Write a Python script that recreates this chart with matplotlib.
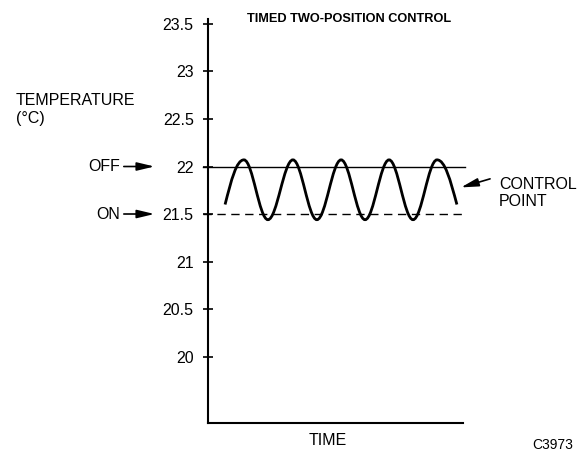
import matplotlib
matplotlib.use("Agg")
import matplotlib.pyplot as plt
from matplotlib.path import Path
from matplotlib.patches import PathPatch

plt.rcParams['font.family'] = ['Liberation Sans', 'DejaVu Sans']

# Temperature scale (deg C)
y_ticks = [20, 20.5, 21, 21.5, 22, 22.5, 23, 23.5]
y_labels = ['20', '20.5', '21', '21.5', '22', '22.5', '23', '23.5']
off_temp = 22.0
on_temp = 21.5

# Wave: start, alternating peaks/troughs, end
wave_x = [0.67, 1.41, 2.35, 3.33, 4.27, 5.22, 6.16, 7.10, 8.04, 8.98, 9.76]
wave_y = [21.60, 22.07, 21.44, 22.07, 21.44, 22.07, 21.44, 22.07, 21.44, 22.07, 21.60]

fig = plt.figure(figsize=(5.79, 4.55), dpi=100)
ax = fig.add_axes([0.3592, 0.0703, 0.4405, 0.8874])
ax.set_xlim(0, 10)
ax.set_ylim(19.3, 23.55)

for s in ['top', 'right']:
    ax.spines[s].set_visible(False)
ax.spines['left'].set_linewidth(1.5)
ax.spines['bottom'].set_linewidth(1.5)
ax.set_xticks([])
ax.set_yticks(y_ticks)
ax.set_yticklabels(y_labels, fontsize=11.5)
ax.tick_params(axis='y', direction='inout', length=6.5, width=1.2, pad=7)

# setpoint lines
ax.plot([-0.2, 10.08], [off_temp, off_temp], color='black', lw=1.0, clip_on=False)
ax.plot([-0.2, 10.08], [on_temp, on_temp], color='black', lw=1.0,
        dashes=(6, 4), clip_on=False)

# smooth wave through the extrema (cubic bezier, flat at each extremum)
verts = [(wave_x[0], wave_y[0])]
codes = [Path.MOVETO]
n = len(wave_x)
for i in range(n - 1):
    x0, y0 = wave_x[i], wave_y[i]
    x1, y1 = wave_x[i + 1], wave_y[i + 1]
    dx, dy = x1 - x0, y1 - y0
    if i == 0:
        c1 = (x0 + dx / 3, y0 + 0.55 * dy)
        c2 = (x1 - 0.4 * dx, y1)
    elif i == n - 2:
        c1 = (x0 + 0.4 * dx, y0)
        c2 = (x1 - dx / 3, y1 - 0.55 * dy)
    else:
        c1 = (x0 + 0.364 * dx, y0)
        c2 = (x1 - 0.364 * dx, y1)
    verts += [c1, c2, (x1, y1)]
    codes += [Path.CURVE4] * 3
ax.add_patch(PathPatch(Path(verts, codes), fill=False, lw=2.0,
                       edgecolor='black', capstyle='butt'))

arrow = dict(arrowstyle='-|>,head_length=1.05,head_width=0.25', color='black',
             lw=1.2, shrinkA=0, shrinkB=0)

ax.text(-3.45, off_temp, 'OFF', ha='right', va='center', fontsize=11.5)
ax.annotate('', xy=(-2.1, off_temp), xytext=(-3.3, off_temp),
            arrowprops=arrow, annotation_clip=False)
ax.text(-3.45, on_temp, 'ON', ha='right', va='center', fontsize=11.5)
ax.annotate('', xy=(-2.1, on_temp), xytext=(-3.3, on_temp),
            arrowprops=arrow, annotation_clip=False)

ax.text(-7.53, 22.6, 'TEMPERATURE\n(°C)', ha='left', va='center', fontsize=11.5,
        linespacing=1.25)

ax.annotate('', xy=(9.92, 21.78), xytext=(11.06, 21.87),
            arrowprops=arrow, annotation_clip=False)
ax.text(11.41, 21.72, 'CONTROL\nPOINT', ha='left', va='center', fontsize=11.5,
        linespacing=1.2)

ax.text(4.7, 19.12, 'TIME', ha='center', va='center', fontsize=11.5)
fig.text(553 / 579, 1 - 445 / 455, 'C3973', ha='center', va='center', fontsize=10)
fig.text(349 / 579, 1 - 18.5 / 455, 'TIMED TWO-POSITION CONTROL', ha='center',
         va='center', fontsize=9.2, fontweight='bold')

fig.savefig('out.png', dpi=100)
